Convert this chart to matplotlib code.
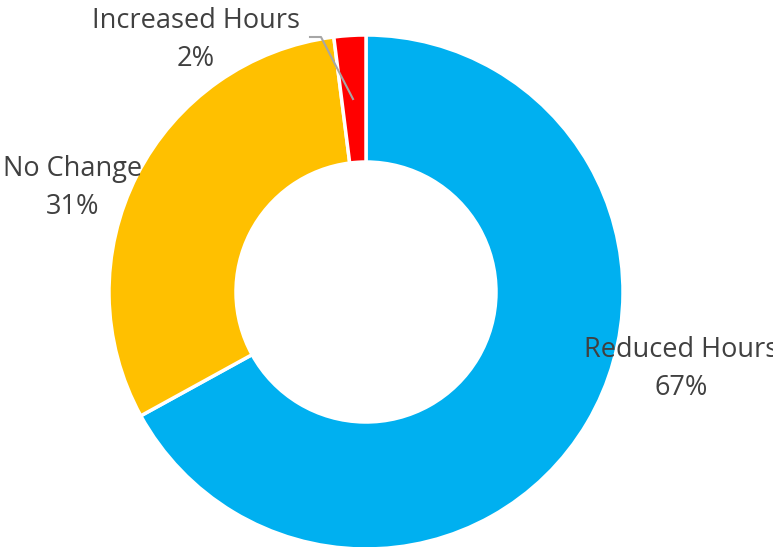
import matplotlib
matplotlib.use('Agg')
from matplotlib import pyplot as plt

# Dados do gráfico
labels = ['Reduced Hours', 'No Change', 'Increased Hours']
values = [67, 31, 2]
colors = ['#00B0F0', '#FFC000', '#FF0000']

plt.rcParams['font.family'] = ['Open Sans', 'DejaVu Sans']

fig = plt.figure(figsize=(7.73, 5.47), dpi=100)
ax = fig.add_axes([0, 0, 1, 1])

cx, cy, r = 366, 255, 257
wedges, _ = ax.pie(values, colors=colors, startangle=90, counterclock=False,
                   center=(cx, cy), radius=r, frame=True,
                   wedgeprops=dict(width=127, edgecolor='white', linewidth=2.5))
ax.set_xlim(0, 773)
ax.set_ylim(0, 547)
ax.set_aspect('equal')
ax.axis('off')

# Rótulos
txt = dict(ha='center', va='center', fontsize=19.5, color='#404040', linespacing=1.45)
ax.text(681, 547 - 369, labels[0] + '\n' + str(values[0]) + '%', **txt)
ax.text(73, 547 - 188, labels[1] + '\n' + str(values[1]) + '%', **txt)
ax.text(196, 547 - 40, labels[2] + '\n' + str(values[2]) + '%', **txt)

# Linha de chamada do menor setor
ax.plot([310, 321, 353], [547 - 37, 547 - 37, 547 - 99], color='#A6A6A6', lw=1.5)

fig.savefig('out.png', dpi=100)
